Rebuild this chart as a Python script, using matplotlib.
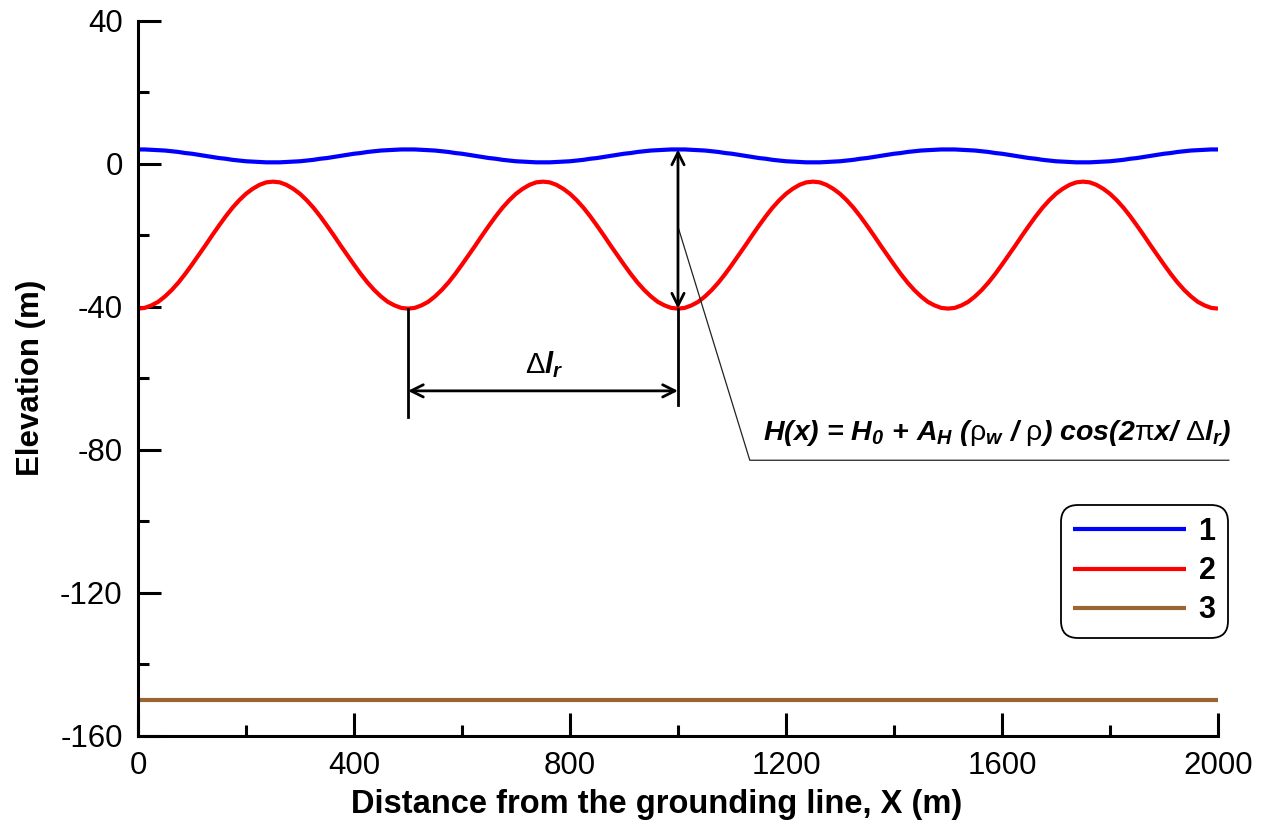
import matplotlib
matplotlib.use('Agg')
import matplotlib.pyplot as plt
from matplotlib.ticker import MultipleLocator

plt.rcParams['font.family'] = ['Liberation Sans', 'DejaVu Sans']
plt.rcParams['axes.unicode_minus'] = False
plt.rcParams['mathtext.fontset'] = 'custom'
plt.rcParams['mathtext.rm'] = 'Liberation Sans:italic:bold'
plt.rcParams['mathtext.it'] = 'Liberation Sans:italic:bold'
plt.rcParams['mathtext.bf'] = 'Liberation Sans:italic:bold'
plt.rcParams['mathtext.sf'] = 'Liberation Sans'

# distance along the profile (m), sampled every 12.5 m
x = [i * 12.5 for i in range(161)]

# one 500 m period of each curve (0 .. 500 m)
blue_period = [4.0, 4.0, 3.9, 3.8, 3.7, 3.5, 3.3, 3.0, 2.8, 2.5, 2.2, 1.9, 1.6, 1.4, 1.1, 0.9, 0.7, 0.6, 0.5, 0.4, 0.4,
               0.4, 0.5, 0.6, 0.7, 0.9, 1.1, 1.4, 1.6, 1.9, 2.2, 2.5, 2.8, 3.0, 3.3, 3.5, 3.7, 3.8, 3.9, 4.0]
red_period = [-40.5, -40.3, -39.6, -38.6, -37.1, -35.3, -33.2, -30.8, -28.2, -25.5, -22.8, -20.0, -17.3, -14.7,
              -12.3, -10.2, -8.4, -7.0, -5.9, -5.2, -5.0, -5.2, -5.9, -7.0, -8.4, -10.2, -12.3, -14.7, -17.3,
              -20.0, -22.8, -25.5, -28.2, -30.8, -33.2, -35.3, -37.1, -38.6, -39.6, -40.3]

# curve 1 (blue) and curve 2 (red): four periods over 0 .. 2000 m
blue = blue_period * 4 + [4.0]
red = red_period * 4 + [-40.5]

# curve 3 (brown) - flat bed
bed_x = [0, 2000]
bed_y = [-150, -150]

fig = plt.figure(figsize=(12.75, 8.25), dpi=100)
ax = fig.add_axes([0.1082, 0.1079, 0.8471, 0.867])

ax.plot(x, blue, color='#0000ff', lw=3, label='1', solid_capstyle='butt')
ax.plot(x, red, color='#ff0000', lw=3, label='2', solid_capstyle='butt')
ax.plot(bed_x, bed_y, color='#996633', lw=3, label='3', solid_capstyle='butt')

ax.set_xlim(0, 2000)
ax.set_ylim(-160, 40)
ax.xaxis.set_major_locator(MultipleLocator(400))
ax.xaxis.set_minor_locator(MultipleLocator(200))
ax.yaxis.set_major_locator(MultipleLocator(40))
ax.yaxis.set_minor_locator(MultipleLocator(20))
ax.tick_params(which='both', direction='in', width=2.2, labelsize=22.5)
ax.tick_params(which='major', length=16.5)
ax.tick_params(which='minor', length=8)
ax.tick_params(axis='y', pad=11)
ax.tick_params(axis='x', pad=11)

for s in ['top', 'right']:
    ax.spines[s].set_visible(False)
for s in ['left', 'bottom']:
    ax.spines[s].set_linewidth(2.2)

ax.set_xlabel('Distance from the grounding line, X (m)', fontsize=23.5, fontweight='bold')
ax.set_ylabel('Elevation (m)', fontsize=22.5, fontweight='bold')
ax.xaxis.label.set_va('baseline')
ax.xaxis.set_label_coords(0.48, -0.1077)
ax.yaxis.set_label_coords(-0.085, 0.5)

# annotations
arr = dict(arrowstyle='<->', lw=2, color='black', mutation_scale=22, shrinkA=0, shrinkB=0)
ax.annotate('', xy=(1000, 4.0), xytext=(1000, -40.5), arrowprops=arr)
ax.plot([500, 500], [-40.5, -70.8], color='black', lw=2)
ax.plot([1000, 1000], [-40.5, -67.4], color='black', lw=2)
ax.annotate('', xy=(500, -63.5), xytext=(1000, -63.5), arrowprops=arr)
ax.text(752, -58.6, r'$\mathsf{\Delta}l_r$', fontsize=21, ha='center', va='baseline')

ax.plot([1000, 1133, 2020], [-17.6, -82.9, -82.9], color='#222222', lw=0.9, clip_on=False)
ax.text(1157, -77.3,
        r'H(x) = H$_0$ + A$_H$ ($\mathsf{\rho}_w$ / $\mathsf{\rho}$) cos(2$\mathsf{\pi}$x/ $\mathsf{\Delta}l_r$)',
        fontsize=20.5, fontweight='bold', fontstyle='italic', ha='left', va='baseline')

leg = ax.legend(loc='upper right', bbox_to_anchor=(0.963, 0.388), bbox_transform=fig.transFigure,
                borderaxespad=0, fancybox=True, frameon=True, handlelength=3.7,
                prop={'weight': 'bold', 'size': 22}, labelspacing=0.3, handletextpad=0.4,
                borderpad=0.4)
frame = leg.get_frame()
frame.set_edgecolor('black')
frame.set_linewidth(1.3)
frame.set_alpha(1)
frame.set_boxstyle('round', pad=0, rounding_size=0.55)

fig.savefig('out.png', dpi=100)
